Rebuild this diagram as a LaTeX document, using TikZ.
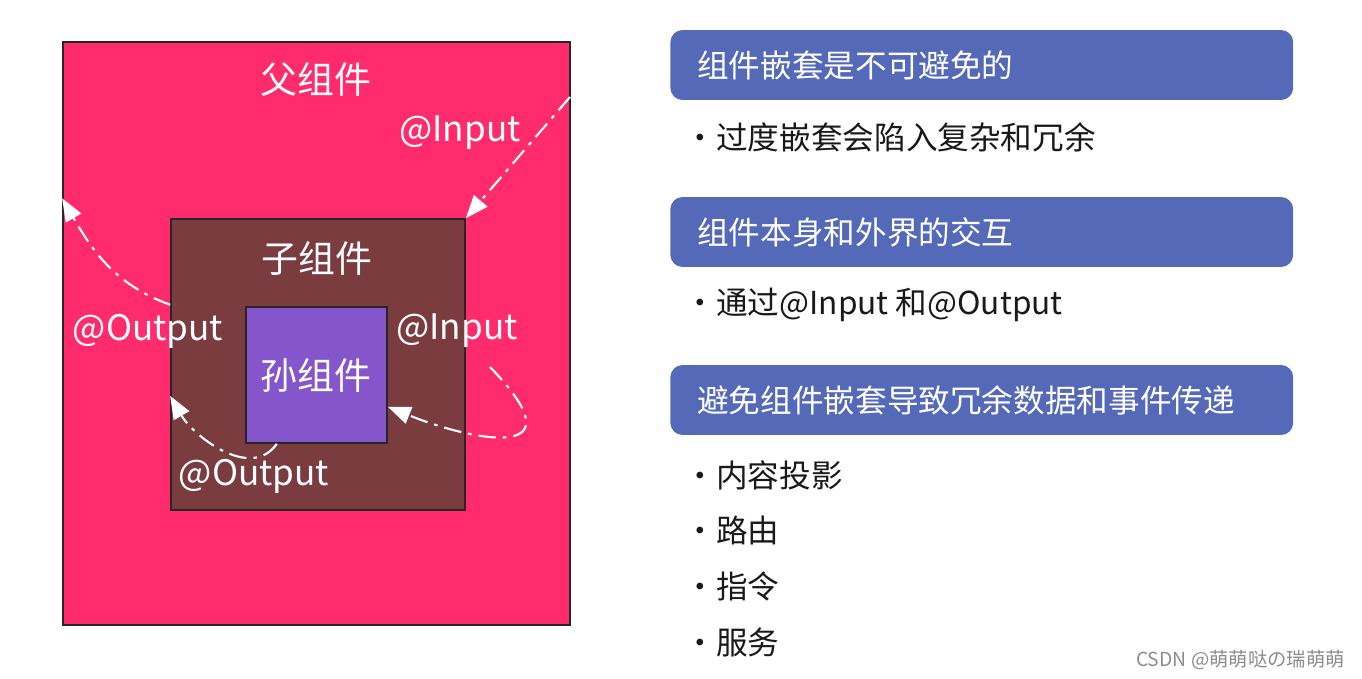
\documentclass[tikz,border=0pt]{standalone}
\usepackage{fontspec}
\setmainfont{Noto Sans CJK SC}
\usetikzlibrary{positioning, arrows.meta}

\definecolor{parentpink}{RGB}{255,43,108}
\definecolor{childbrown}{RGB}{123,60,64}
\definecolor{grandpurple}{RGB}{133,85,204}
\definecolor{headblue}{RGB}{84,106,185}

\begin{document}
\begin{tikzpicture}[
    x=0.02cm, y=-0.02cm,
    box/.style={rectangle, draw=black!85, line width=1pt, inner sep=0pt},
    boxtitle/.style={text=white, font=\fontsize{21}{24}\selectfont},
    io/.style={text=white, font=\fontsize{20}{24}\selectfont, inner sep=1pt},
    flow/.style={draw=white, line width=1.2pt, dash pattern=on 10pt off 4pt on 2pt off 4pt, -{Triangle[length=13pt,width=10pt]}},
    header/.style={rectangle, rounded corners=7pt, fill=headblue, text=white, minimum height=1.4cm, text width=11.38cm, inner xsep=0.54cm, align=left, anchor=west, font=\fontsize{18}{20}\selectfont},
    item/.style={anchor=west, inner sep=0pt, text=black!90, font=\fontsize{18}{20}\selectfont}
]
\useasboundingbox (0,0) rectangle (1362,679);

% Nested components
\node (parent) [box, fill=parentpink, minimum width=10.14cm, minimum height=11.66cm] at (316.5,333.5) {};
\node (child) [box, fill=childbrown, minimum width=5.88cm, minimum height=5.82cm] at (318,364.5) {};
\node (grand) [box, fill=grandpurple, minimum width=2.82cm, minimum height=2.72cm] at (316.5,375) {};

\node (parentT) [boxtitle] at (316,80) {父组件};
\node (childT) [boxtitle] at (317,258) {子组件};
\node (grandT) [boxtitle] at (316,375) {孙组件};

% Input / Output labels
\node (inTop) [io] at (460,133) {@Input};
\node (outLeft) [io] at (148,331) {@Output};
\node (inRight) [io] at (457,331) {@Input};
\node (outBottom) [io] at (254,476) {@Output};

\coordinate (inStart) at (570,97);
\coordinate (loopStart) at (490,367);

% Data flow
\draw[flow] (inStart) -- (child.north east);
\draw[flow] (child.158) to[out=160, in=-60] (parent.152);
\draw[flow] (grand.240) to[out=235, in=-60] (child.192);
\draw[flow] (loopStart) .. controls (585,465) and (470,440) .. (grand.336);

% Right column
\node (h1) [header] at (670,65) {组件嵌套是不可避免的};
\node (b1) [item] at (716,137) {\llap{•}过度嵌套会陷入复杂和冗余};

\node (h2) [header] at (670,232) {组件本身和外界的交互};
\node (b2) [item] at (716,305) {\llap{•}通过@Input 和@Output};

\node (h3) [header] at (670,400) {避免组件嵌套导致冗余数据和事件传递};
\node (b3) [item] at (716,475) {\llap{•}内容投影};
\node (b4) [item, below=0.52cm of b3.south west, anchor=north west] {\llap{•}路由};
\node (b5) [item, below=0.52cm of b4.south west, anchor=north west] {\llap{•}指令};
\node (b6) [item, below=0.52cm of b5.south west, anchor=north west] {\llap{•}服务};

\node (mark) [anchor=east, inner sep=0pt, text=black!45, font=\fontsize{11}{13}\selectfont] at (1345,660) {CSDN @萌萌哒の瑞萌萌};

\end{tikzpicture}
\end{document}
